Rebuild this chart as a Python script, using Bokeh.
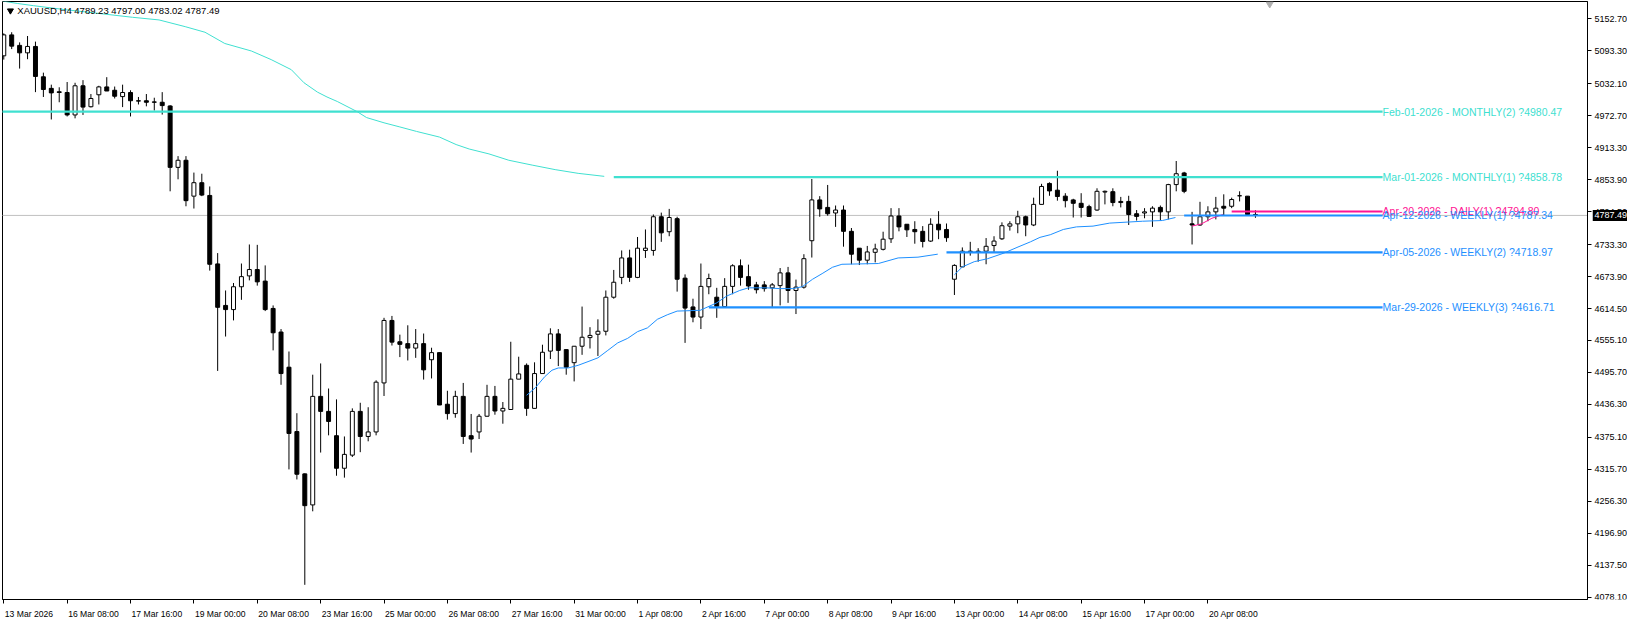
from bokeh.plotting import figure
from bokeh.layouts import row
from bokeh.models import Range1d, FixedTicker, CustomJSTickFormatter, Label, ColumnDataSource
from bokeh.embed import file_html
from bokeh.resources import INLINE
from bokeh.core.properties import value

# ---------------- data ----------------
opens = [5084.1, 5123.0, 5103.5, 5089.6, 5101.5, 5045.1, 5023.6, 5017.3, 5015.9, 4974.2,
         5028.4, 4989.5, 5011.7, 5026.3, 5020.1, 5008.3, 5015.9, 5000.6, 5000.6, 4998.5,
         4997.8, 4990.9, 4876.8, 4890.0, 4823.3, 4848.3, 4824.6, 4697.4, 4620.2, 4612.5,
         4654.9, 4675.1, 4686.9, 4665.4, 4614.6, 4570.8, 4505.4, 4385.8, 4307.2, 4249.5,
         4451.2, 4423.3, 4378.1, 4317.6, 4342.0, 4423.3, 4376.7, 4385.1, 4476.2, 4592.3,
         4552.7, 4549.2, 4540.9, 4549.2, 4519.3, 4532.5, 4436.6, 4419.2, 4451.2, 4378.1,
         4385.1, 4414.3, 4451.2, 4424.0, 4426.8, 4483.2, 4508.9, 4428.9, 4493.6, 4535.3,
         4567.3, 4538.1, 4513.8, 4544.4, 4560.4, 4566.6, 4572.2, 4635.5, 4672.3, 4708.5,
         4672.3, 4722.4, 4722.4, 4785.0, 4757.2, 4781.5, 4670.9, 4617.4, 4598.6, 4654.9,
         4635.5, 4618.1, 4655.6, 4693.9, 4673.7, 4658.4, 4658.4, 4652.9, 4657.0, 4680.7,
         4648.0, 4654.2, 4740.5, 4816.3, 4802.4, 4792.0, 4797.5, 4757.9, 4726.6, 4704.3,
         4718.9, 4724.5, 4744.0, 4786.4, 4771.1, 4761.4, 4757.9, 4739.8, 4771.1, 4761.4,
         4668.9, 4691.8, 4719.6, 4721.0, 4721.0, 4731.5, 4744.0, 4767.6, 4771.8, 4785.0,
         4769.7, 4808.0, 4846.9, 4834.4, 4823.3, 4816.3, 4810.0, 4803.8, 4797.5, 4830.9,
         4831.6, 4813.5, 4813.5, 4790.6, 4792.0, 4794.1, 4802.4, 4794.1, 4844.8, 4866.4,
         4771.8, 4769.7, 4785.0, 4794.1, 4804.5, 4804.5, 4824.0, 4823.3, 4789.23]
highs = [5125.8, 5127.9, 5109.1, 5120.9, 5110.5, 5052.8, 5030.5, 5025.6, 5035.4, 5034.0,
         5038.9, 5013.1, 5028.4, 5044.4, 5027.0, 5030.5, 5020.1, 5007.6, 5013.1, 5006.2,
         5016.6, 4992.3, 4897.7, 4897.7, 4867.1, 4865.0, 4841.3, 4717.5, 4648.0, 4661.9,
         4698.1, 4733.5, 4732.8, 4694.6, 4620.2, 4576.3, 4534.6, 4419.9, 4308.0, 4491.5,
         4512.4, 4465.8, 4445.6, 4376.7, 4428.9, 4439.3, 4431.0, 4481.1, 4597.2, 4600.7,
         4565.9, 4583.3, 4576.3, 4568.0, 4541.6, 4533.0, 4461.6, 4461.6, 4476.2, 4418.5,
         4418.5, 4472.7, 4470.6, 4440.7, 4552.7, 4524.9, 4512.4, 4514.5, 4547.2, 4577.7,
         4576.3, 4538.1, 4544.4, 4618.1, 4579.8, 4594.4, 4648.0, 4686.2, 4722.4, 4723.8,
         4747.4, 4761.4, 4789.2, 4792.7, 4799.6, 4785.0, 4677.9, 4632.7, 4698.1, 4679.3,
         4652.9, 4670.9, 4696.7, 4705.7, 4696.0, 4664.0, 4665.4, 4661.9, 4689.7, 4691.8,
         4668.2, 4715.4, 4855.2, 4823.3, 4844.1, 4805.9, 4805.9, 4764.1, 4726.6, 4730.8,
         4734.9, 4757.2, 4801.0, 4801.0, 4771.1, 4776.7, 4767.6, 4782.2, 4795.4, 4772.5,
         4696.7, 4728.0, 4738.4, 4726.6, 4745.4, 4748.8, 4774.6, 4776.7, 4796.1, 4787.1,
         4820.5, 4846.2, 4849.0, 4870.5, 4828.8, 4818.4, 4828.8, 4807.3, 4837.9, 4833.7,
         4837.9, 4821.9, 4824.0, 4797.5, 4801.0, 4804.5, 4805.9, 4846.2, 4888.6, 4868.5,
         4794.1, 4812.8, 4804.5, 4821.9, 4826.7, 4820.5, 4832.3, 4823.3, 4797.00]
lows = [5077.1, 5096.6, 5060.4, 5077.8, 5016.6, 5007.6, 4965.8, 4997.8, 4971.4, 4967.9,
        4974.2, 4988.1, 4993.7, 5018.7, 5004.8, 4988.8, 4971.4, 4993.7, 4990.2, 4982.5,
        4974.9, 4832.3, 4854.6, 4804.5, 4800.3, 4823.3, 4684.9, 4498.5, 4562.4, 4592.4,
        4630.6, 4666.8, 4657.0, 4609.7, 4536.7, 4472.7, 4315.5, 4296.8, 4101.0, 4237.6,
        4346.8, 4378.8, 4303.7, 4300.2, 4338.5, 4347.5, 4367.7, 4378.8, 4451.9, 4545.7,
        4524.2, 4517.9, 4522.8, 4482.4, 4484.5, 4435.0, 4408.0, 4411.5, 4362.8, 4346.8,
        4371.9, 4413.6, 4417.1, 4400.4, 4426.8, 4483.2, 4415.0, 4428.9, 4493.6, 4520.7,
        4507.5, 4491.5, 4479.0, 4528.4, 4540.2, 4526.3, 4564.5, 4632.7, 4659.8, 4664.0,
        4670.9, 4708.5, 4712.7, 4738.4, 4748.8, 4645.9, 4550.6, 4588.9, 4576.3, 4641.0,
        4597.2, 4616.7, 4641.0, 4657.0, 4649.4, 4642.4, 4645.9, 4615.3, 4620.2, 4625.0,
        4604.2, 4651.5, 4709.2, 4785.0, 4787.1, 4766.2, 4729.4, 4696.7, 4695.3, 4696.7,
        4700.2, 4722.4, 4736.3, 4757.9, 4747.4, 4734.9, 4728.0, 4738.4, 4743.3, 4738.4,
        4639.6, 4691.8, 4712.7, 4701.5, 4696.7, 4719.6, 4741.9, 4759.3, 4754.4, 4748.8,
        4767.6, 4808.0, 4824.0, 4814.9, 4802.4, 4783.6, 4783.6, 4785.0, 4796.1, 4808.0,
        4804.5, 4802.4, 4769.7, 4778.0, 4782.2, 4766.2, 4778.0, 4780.1, 4832.3, 4828.8,
        4733.5, 4768.3, 4776.7, 4780.1, 4787.1, 4801.0, 4813.5, 4787.1, 4783.02]
closes = [5123.0, 5102.1, 5089.6, 5101.5, 5045.8, 5021.5, 5015.2, 5015.9, 4974.2, 5028.4,
          4988.8, 5004.8, 5026.3, 5018.7, 5009.0, 5015.9, 5000.6, 4999.9, 4997.8, 4997.8,
          4991.6, 4876.8, 4890.0, 4814.9, 4848.3, 4825.3, 4696.7, 4616.7, 4612.5, 4654.9,
          4673.7, 4686.9, 4664.0, 4612.5, 4569.4, 4493.6, 4382.3, 4306.5, 4248.1, 4451.2,
          4423.3, 4404.6, 4317.6, 4343.4, 4423.3, 4376.7, 4385.1, 4477.6, 4592.3, 4552.0,
          4547.9, 4540.9, 4549.2, 4500.5, 4532.5, 4435.2, 4419.2, 4451.2, 4376.7, 4371.9,
          4414.3, 4451.2, 4424.0, 4428.9, 4483.2, 4492.9, 4428.9, 4493.6, 4533.2, 4567.3,
          4536.7, 4505.4, 4544.4, 4561.1, 4564.5, 4572.2, 4635.5, 4663.3, 4708.5, 4672.3,
          4726.6, 4726.6, 4785.0, 4755.1, 4783.6, 4668.9, 4615.3, 4598.6, 4655.6, 4670.2,
          4618.1, 4655.6, 4693.9, 4672.3, 4656.3, 4649.4, 4651.5, 4658.4, 4680.7, 4648.0,
          4654.2, 4707.1, 4816.3, 4799.6, 4790.6, 4797.5, 4757.9, 4715.4, 4704.3, 4719.6,
          4725.2, 4743.3, 4786.4, 4766.2, 4760.7, 4757.2, 4739.1, 4771.1, 4760.7, 4746.1,
          4694.6, 4721.0, 4721.0, 4719.6, 4730.1, 4739.8, 4768.3, 4771.8, 4785.0, 4769.7,
          4808.0, 4841.3, 4833.0, 4822.6, 4814.9, 4810.0, 4802.4, 4785.7, 4832.3, 4832.3,
          4811.4, 4811.4, 4789.2, 4785.7, 4794.1, 4801.0, 4794.1, 4844.8, 4865.0, 4832.3,
          4769.7, 4785.0, 4794.1, 4801.0, 4801.0, 4817.0, 4824.0, 4789.2, 4787.49]

time_labels = ["13 Mar 2026", "16 Mar 08:00", "17 Mar 16:00", "19 Mar 00:00", "20 Mar 08:00",
               "23 Mar 16:00", "25 Mar 00:00", "26 Mar 08:00", "27 Mar 16:00", "31 Mar 00:00",
               "1 Apr 08:00", "2 Apr 16:00", "7 Apr 00:00", "8 Apr 08:00", "9 Apr 16:00",
               "13 Apr 00:00", "14 Apr 08:00", "15 Apr 16:00", "17 Apr 00:00", "20 Apr 08:00"]
time_label_bars = [0, 8, 16, 24, 32, 40, 48, 56, 64, 72, 80, 88, 96, 104, 112, 120, 128, 136, 144, 152]

price_ticks = [5152.70, 5093.30, 5032.10, 4972.70, 4913.30, 4853.90, 4794.50, 4733.30, 4673.90,
               4614.50, 4555.10, 4495.70, 4436.30, 4375.10, 4315.70, 4256.30, 4196.90, 4137.50, 4078.10]

level_texts = ["Feb-01-2026 - MONTHLY(2) ?4980.47", "Mar-01-2026 - MONTHLY(1) ?4858.78",
               "Apr-20-2026 - DAILY(1) ?4794.80", "Apr-12-2026 - WEEKLY(1) ?4787.34",
               "Apr-05-2026 - WEEKLY(2) ?4718.97", "Mar-29-2026 - WEEKLY(3) ?4616.71"]
level_prices = [4980.47, 4858.78, 4794.80, 4787.34, 4718.97, 4616.71]
level_start_bars = [-1, 77, 155, 149, 119, 89]
level_colors = ["#40E0D0", "#40E0D0", "#FF1493", "#1E90FF", "#1E90FF", "#1E90FF"]

teal_ma_x = [-1.0, 1.7, 3.75, 7.9, 12.1, 16.25, 19.6, 22.9, 25.4, 27.9, 31.25, 33.75, 36.3, 37.9,
             39.6, 40.8, 42.1, 44.6, 45.8, 48.0, 50.0, 52.1, 55.0, 57.1, 58.75, 61.25, 63.75,
             66.7, 69.6, 72.5, 75.8]
teal_ma_y = [5188.0, 5181.4, 5177.3, 5169.6, 5162.7, 5155.7, 5150.8, 5138.3, 5127.9, 5107.0,
             5093.1, 5077.1, 5058.3, 5034.0, 5016.6, 5007.6, 4999.2, 4980.4, 4969.3, 4959.6,
             4951.9, 4943.6, 4933.1, 4919.2, 4910.9, 4901.8, 4890.0, 4881.0, 4872.6, 4865.7, 4860.1]
blue_ma1_x = [66.0, 67.1, 68.3, 69.2, 70.0, 71.25, 72.5, 73.75, 75.0, 76.25, 77.5, 78.75, 80.0,
              81.25, 82.5, 83.75, 85.0, 87.9, 90.0, 91.25, 92.9, 94.0, 96.25, 97.9, 99.6, 100.8,
              102.1, 103.3, 104.6, 105.8, 110.4, 112.9, 115.4, 117.9]
blue_ma1_y = [4453.2, 4467.2, 4488.0, 4499.8, 4504.0, 4504.0, 4508.9, 4515.8, 4522.8, 4536.7,
              4550.6, 4559.0, 4571.5, 4578.5, 4594.4, 4602.8, 4609.7, 4611.1, 4625.0, 4637.6,
              4648.0, 4652.9, 4652.9, 4651.5, 4651.5, 4655.0, 4668.9, 4679.3, 4691.1, 4696.7,
              4698.1, 4708.5, 4709.9, 4715.5]
blue_ma2_x = [120.0, 121.0, 122.5, 124.2, 126.25, 127.9, 129.6, 130.8, 132.1, 133.75, 135.4,
              137.5, 139.6, 142.1, 143.75, 146.25, 147.9]
blue_ma2_y = [4677.2, 4691.8, 4701.5, 4707.1, 4717.5, 4728.0, 4738.4, 4746.7, 4751.6, 4761.4,
              4766.2, 4767.6, 4773.2, 4775.3, 4776.7, 4778.0, 4783.6]
pink_ma_x = [150.0, 151.2, 152.5, 153.9]
pink_ma_y = [4767.6, 4771.8, 4782.2, 4789.2]

symbol = "XAUUSD,H4"
bid = closes[-1]

# ---------------- layout constants ----------------
FONT = "Liberation Sans"
W, H = 1627, 621
AXIS_W = 35                      # width of the price-label strip at the right
PX_PER_BAR = 7.922
BAR0_PX = 3.27
FRAME_L, FRAME_R = 2, W - AXIS_W - 5
X0 = (FRAME_L - BAR0_PX) / PX_PER_BAR
X1 = (FRAME_R - BAR0_PX) / PX_PER_BAR
yr = Range1d(4073.71, 5185.04)

p = figure(width=W - AXIS_W, height=H, x_range=Range1d(X0, X1), y_range=yr,
           y_axis_location="right", toolbar_location=None, output_backend="svg",
           min_border_left=FRAME_L, min_border_top=1, min_border_right=5, min_border_bottom=21,
           background_fill_color="white", border_fill_color="white")
p.grid.visible = False
p.outline_line_color = "black"

# price axis: ticks only (its labels are drawn in the strip to the right)
p.yaxis.ticker = FixedTicker(ticks=price_ticks, minor_ticks=[])
p.yaxis.formatter = CustomJSTickFormatter(code="return ''")
p.yaxis.major_tick_out = 4
p.yaxis.major_tick_in = 0
p.yaxis.major_label_standoff = 0
p.yaxis.axis_line_color = "black"
p.yaxis.major_tick_line_color = "black"

# time axis: tick marks at the bars (minor ticks), labels left-aligned after the mark
AW = {"0": 556, "1": 556, "2": 556, "3": 556, "4": 556, "5": 556, "6": 556, "7": 556,
      "8": 556, "9": 556, " ": 278, ":": 278, "M": 833, "a": 556, "r": 333, "A": 667, "p": 556}
TFS = 8.6
label_pos = []
for b, t in zip(time_label_bars, time_labels):
    wpx = sum(AW.get(ch, 556) for ch in t) * TFS / 1000.0
    label_pos.append(round(b + (1.0 + wpx / 2.0) / PX_PER_BAR, 4))
p.xaxis.ticker = FixedTicker(ticks=label_pos, minor_ticks=time_label_bars)
p.xaxis.formatter = CustomJSTickFormatter(
    args=dict(pos=label_pos, labels=time_labels),
    code="for (let i = 0; i < pos.length; i++) { if (Math.abs(pos[i] - tick) < 1e-3) return labels[i]; } return '';")
p.xaxis.major_tick_out = 0
p.xaxis.major_tick_in = 0
p.xaxis.minor_tick_out = 4
p.xaxis.minor_tick_in = 0
p.xaxis.minor_tick_line_color = "black"
p.xaxis.major_label_standoff = 5
p.xaxis.major_label_text_font = FONT
p.xaxis.major_label_text_font_size = f"{TFS}px"
p.xaxis.major_label_text_color = "black"
p.xaxis.axis_line_color = "black"

idx = list(range(len(opens)))

# bid line
p.segment(x0=[X0 - 5], y0=[bid], x1=[X1 + 5], y1=[bid], line_color="#C0C0C0", line_width=1)

# candles
tops = [max(o, c) for o, c in zip(opens, closes)]
bots = [min(o, c) for o, c in zip(opens, closes)]
fills = ["white" if c >= o else "black" for o, c in zip(opens, closes)]
csrc = ColumnDataSource(dict(x=idx, h=highs, l=lows, t=tops, b=bots, f=fills))
p.segment(x0="x", y0="l", x1="x", y1="h", source=csrc, line_color="black", line_width=1)
p.vbar(x="x", width=0.5, top="t", bottom="b", fill_color="f", line_color="black",
       line_width=1, source=csrc)

# indicator lines
p.line(teal_ma_x, teal_ma_y, line_color="#40E0D0", line_width=1)
p.line(blue_ma1_x, blue_ma1_y, line_color="#1E90FF", line_width=1)
p.line(blue_ma2_x, blue_ma2_y, line_color="#1E90FF", line_width=1)
p.line(pink_ma_x, pink_ma_y, line_color="#FF1493", line_width=1)

# level lines with their texts
LABEL_X = 174.05
p.segment(x0=level_start_bars, y0=level_prices, x1=[LABEL_X] * len(level_prices), y1=level_prices,
          line_color=level_colors, line_width=2.2)
p.text(x=[LABEL_X] * len(level_prices), y=level_prices, text=level_texts,
       text_color=level_colors, text_font=value(FONT), text_font_size="10.5px",
       text_align="left", text_baseline="middle")

# header
p.scatter(x=[0.84], y=[5168.0], marker="inverted_triangle", size=6, color="black")
p.add_layout(Label(x=1.71, y=5168.0,
                   text=f"{symbol}  {opens[-1]:.2f} {highs[-1]:.2f} {lows[-1]:.2f} {closes[-1]:.2f}",
                   text_font=FONT, text_font_size="9.5px", text_color="black",
                   text_align="left", text_baseline="middle"))
# chart-shift marker
p.scatter(x=[159.8], y=[5180.5], marker="inverted_triangle", size=7, color="#B0B0B0")

# ---------------- price-label strip (shares the price scale) ----------------
q = figure(width=AXIS_W, height=H, x_range=Range1d(0, AXIS_W), y_range=yr,
           x_axis_location=None, y_axis_location=None, toolbar_location=None,
           output_backend="svg", min_border_left=0, min_border_right=0,
           min_border_top=1, min_border_bottom=21,
           background_fill_color="white", border_fill_color="white")
q.grid.visible = False
q.outline_line_color = None
q.text(x=[2] * len(price_ticks), y=price_ticks, text=[f"{v:.2f}" for v in price_ticks],
       text_color="black", text_font=value(FONT), text_font_size="9px",
       text_align="left", text_baseline="middle")
q.rect(x=[AXIS_W / 2], y=[bid], width=AXIS_W, height=11, height_units="screen",
       fill_color="black", line_color=None)
q.text(x=[2], y=[bid], text=[f"{bid:.2f}"], text_color="white", text_font=value(FONT),
       text_font_size="9px", text_align="left", text_baseline="middle")

layout = row(p, q)
open("out.html", "w").write(file_html(layout, INLINE))
